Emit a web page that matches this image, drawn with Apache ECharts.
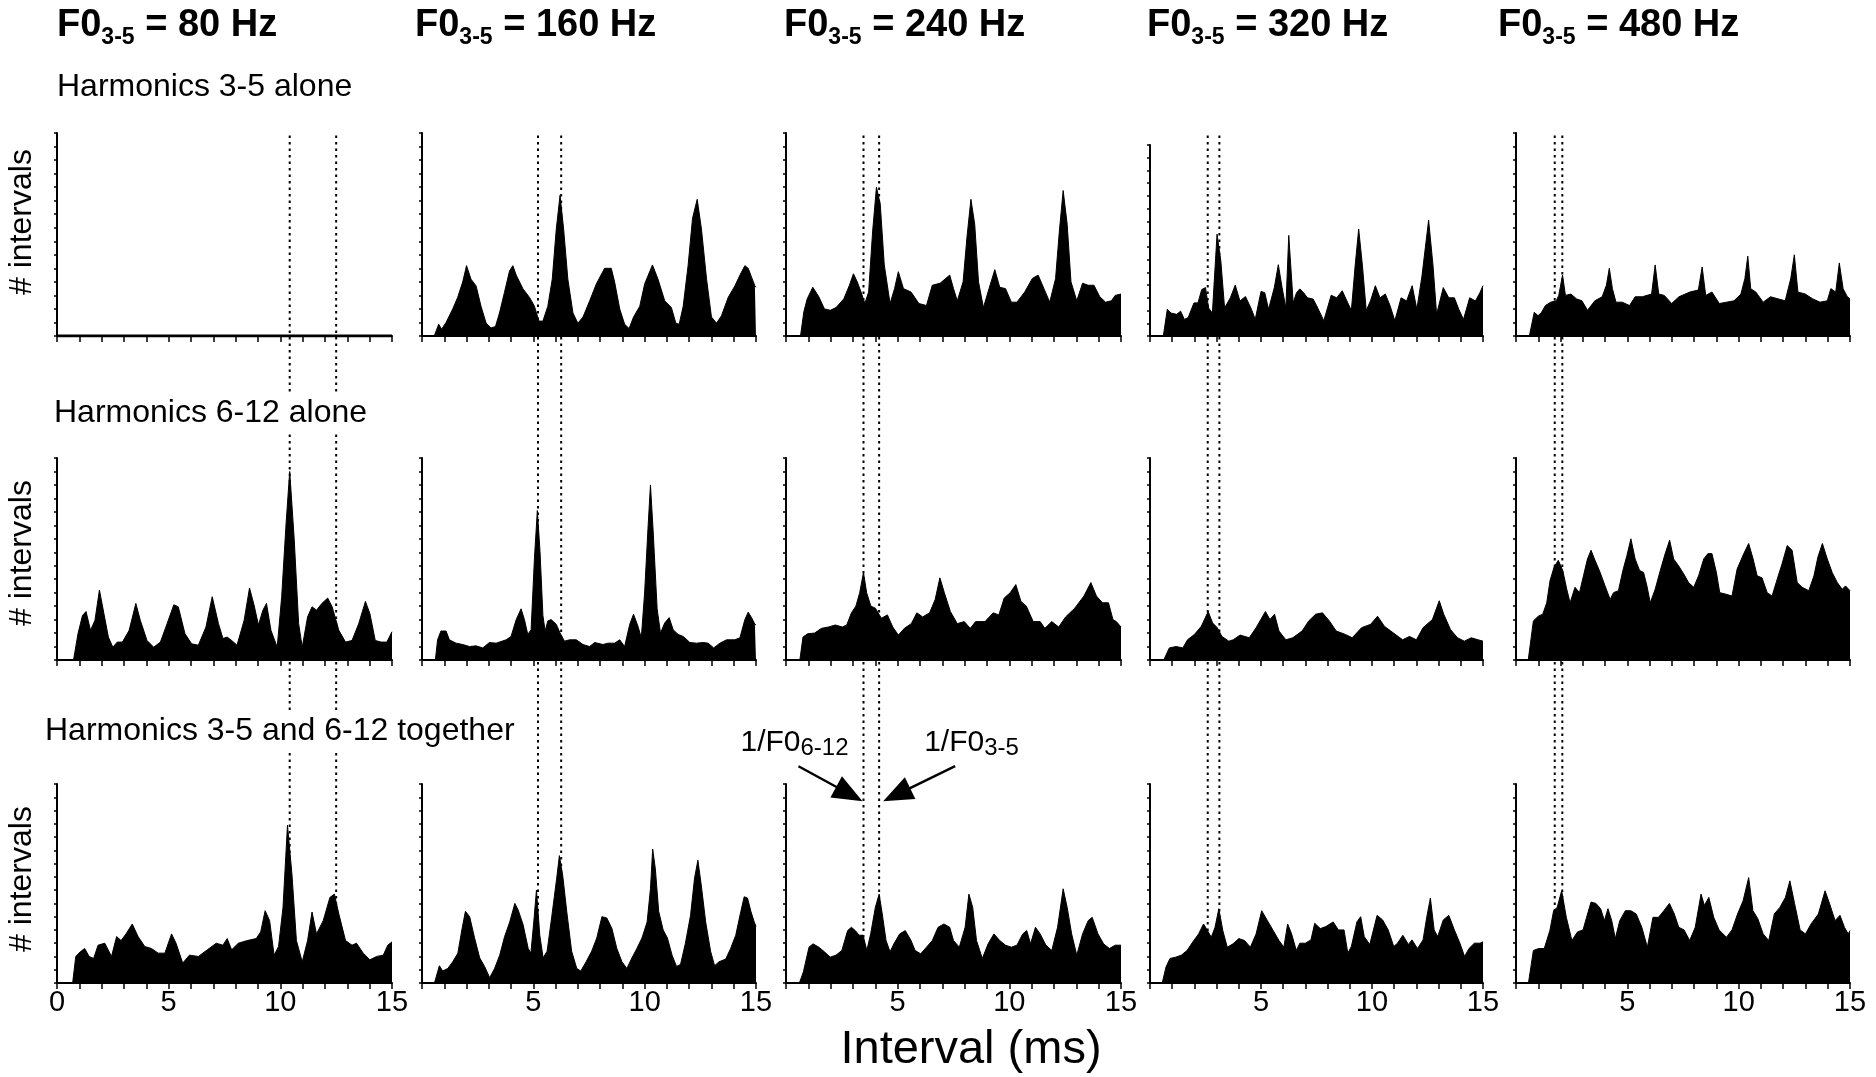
<!DOCTYPE html>
<html><head><meta charset="utf-8">
<script src="https://cdn.jsdelivr.net/npm/echarts@6/dist/echarts.min.js"></script>
<style>html,body{margin:0;padding:0;background:#fff}#c{width:1876px;height:1077px}</style>
</head><body><div id="c"></div>
<script>
// ---- tick/label data ----
const titleHz = ['80', '160', '240', '320', '480'];
const rowLabels = ['Harmonics 3-5 alone', 'Harmonics 6-12 alone', 'Harmonics 3-5 and 6-12 together'];
// dotted reference lines (ms): 1/F0(3-5) and 1/F0(6-12)
const period35 = [12.5, 6.25, 4.17, 3.125, 2.08];
const period612 = [10.42, 5.21, 3.47, 2.6, 1.74];
const xTickLabels = [0, 5, 10, 15];

// ---- histogram data: [interval ms, count (axis = 0..15)] ----
const h35_80 = [[0,0],[15,0]];
const h35_160 = [[0,0],[0.55,0],[0.75,0.87],[0.88,0.5],[1.08,1.0],[1.38,2.0],[1.6,2.85],[1.83,4.0],[2.0,5.2],[2.2,4.2],[2.43,3.7],[2.65,2.2],[2.88,0.95],[3.1,0.6],[3.3,0.7],[3.48,1.7],[3.7,3.2],[3.93,4.8],[4.08,5.2],[4.23,4.5],[4.53,3.5],[4.83,2.85],[5.05,2.2],[5.25,1.1],[5.43,1.1],[5.65,2.2],[5.85,4.2],[6.03,7.9],[6.2,10.4],[6.36,7.9],[6.55,4.2],[6.78,1.7],[7.0,0.95],[7.23,1.4],[7.53,2.6],[7.83,3.85],[8.2,5.0],[8.5,5.0],[8.65,4.0],[8.88,2.0],[9.1,0.87],[9.3,0.55],[9.5,1.4],[9.78,2.2],[10.0,3.85],[10.35,5.25],[10.6,4.2],[10.9,2.6],[11.2,2.1],[11.4,0.95],[11.55,0.87],[11.73,2.2],[11.95,5.2],[12.15,8.7],[12.36,10.1],[12.55,7.9],[12.78,4.2],[13.0,1.4],[13.23,0.95],[13.45,1.5],[13.75,2.85],[14.05,3.7],[14.28,4.5],[14.5,5.2],[14.65,5.0],[14.8,4.35],[14.95,3.7],[15,3.6]];
const h35_240 = [[0,0],[0.65,0],[0.8,1.8],[0.95,2.75],[1.2,3.6],[1.47,2.9],[1.72,2.0],[1.98,1.9],[2.24,2.1],[2.59,2.75],[2.84,3.75],[3.02,4.6],[3.19,4.0],[3.36,3.25],[3.53,2.4],[3.7,3.25],[3.88,7.75],[4.05,11.0],[4.22,9.75],[4.4,5.25],[4.66,2.4],[4.86,3.5],[5.03,4.75],[5.26,3.5],[5.6,3.25],[5.95,2.4],[6.29,2.25],[6.55,3.75],[6.9,3.9],[7.33,4.5],[7.5,3.5],[7.67,2.6],[7.93,4.0],[8.1,7.25],[8.28,10.1],[8.45,8.25],[8.62,4.0],[8.84,2.1],[9.09,3.5],[9.35,4.9],[9.57,3.6],[9.83,3.5],[10.09,2.5],[10.34,2.5],[10.69,3.25],[11.03,4.25],[11.29,4.5],[11.55,3.5],[11.81,2.5],[12.07,4.25],[12.24,7.75],[12.41,10.75],[12.59,8.25],[12.76,4.0],[13.02,2.6],[13.28,3.9],[13.53,3.75],[13.79,3.75],[14.05,2.9],[14.31,2.5],[14.57,2.6],[14.74,3.0],[15,3.1]];
const h35_320 = [[0,0],[0.6,0],[0.78,2.1],[0.95,1.8],[1.2,1.7],[1.38,1.95],[1.55,1.3],[1.72,1.45],[1.98,2.6],[2.16,2.6],[2.33,3.65],[2.5,3.8],[2.64,2.2],[2.81,1.8],[3.02,8.0],[3.19,5.9],[3.36,2.2],[3.62,3.0],[3.84,4.0],[4.05,2.75],[4.3,3.1],[4.57,2.1],[4.74,1.3],[5.0,3.5],[5.17,3.4],[5.34,2.1],[5.6,3.8],[5.78,5.6],[5.95,3.8],[6.12,2.2],[6.25,7.9],[6.45,2.6],[6.6,3.4],[6.75,3.7],[6.92,3.4],[7.09,3.0],[7.35,2.9],[7.5,2.4],[7.83,1.2],[8.16,3.2],[8.41,3.0],[8.66,3.55],[8.83,2.9],[9.07,2.0],[9.24,5.5],[9.4,8.4],[9.57,5.5],[9.74,2.0],[9.93,2.75],[10.15,3.95],[10.36,3.0],[10.6,3.3],[10.81,2.4],[11.03,1.2],[11.31,3.0],[11.56,2.75],[11.81,3.95],[12.02,2.1],[12.25,4.7],[12.55,9.1],[12.75,5.5],[12.91,1.7],[13.21,3.8],[13.46,3.0],[13.71,3.0],[13.91,2.1],[14.12,1.3],[14.4,3.0],[14.66,2.75],[14.86,3.4],[15,3.95]];
const h35_480 = [[0,0],[0.6,0],[0.82,1.75],[0.99,1.5],[1.15,1.75],[1.32,2.25],[1.56,2.5],[1.81,2.6],[1.92,3.0],[2.09,4.5],[2.22,3.0],[2.47,3.1],[2.71,2.75],[2.96,2.6],[3.21,1.9],[3.54,2.6],[3.87,2.9],[4.06,3.75],[4.19,5.0],[4.33,3.5],[4.49,2.5],[4.77,2.5],[5.1,2.25],[5.35,2.9],[5.67,2.9],[6.09,3.1],[6.25,5.25],[6.41,3.1],[6.66,3.0],[6.99,2.4],[7.32,2.9],[7.81,3.25],[8.19,3.4],[8.36,5.1],[8.52,3.0],[8.8,3.25],[9.13,2.4],[9.46,2.5],[9.79,2.6],[10.1,3.1],[10.28,4.25],[10.41,5.9],[10.54,3.5],[10.77,3.25],[11.1,2.5],[11.43,2.9],[11.76,2.75],[12.09,2.6],[12.34,4.25],[12.5,6.0],[12.66,3.25],[12.99,3.1],[13.32,2.75],[13.65,2.5],[13.98,2.6],[14.14,3.5],[14.36,3.25],[14.52,5.4],[14.69,3.5],[14.88,2.9],[15,2.75]];

const h612_80 = [[0,0],[0.74,0],[0.94,1.95],[1.14,3.3],[1.3,3.6],[1.5,2.2],[1.7,2.95],[1.9,5.2],[2.1,3.45],[2.3,1.7],[2.5,0.95],[2.7,1.33],[2.93,1.33],[3.23,2.2],[3.53,4.2],[3.73,2.95],[4.03,1.45],[4.33,0.95],[4.63,1.33],[4.93,2.7],[5.23,4.1],[5.43,3.95],[5.73,1.95],[6.03,1.2],[6.33,1.1],[6.67,2.45],[6.95,4.7],[7.23,2.7],[7.43,1.6],[7.62,1.7],[7.82,1.45],[8.06,1.1],[8.38,2.95],[8.62,5.35],[8.82,4.1],[9.02,2.6],[9.22,3.7],[9.38,4.2],[9.58,2.2],[9.86,0.95],[10.06,4.7],[10.26,10.2],[10.42,14.0],[10.62,9.0],[10.82,2.7],[10.98,0.95],[11.22,3.2],[11.42,3.95],[11.62,3.7],[11.86,4.2],[12.12,4.6],[12.32,3.95],[12.62,2.2],[12.92,1.33],[13.21,1.45],[13.51,2.7],[13.81,4.35],[14.01,3.45],[14.25,1.45],[14.51,1.33],[14.77,1.33],[15,2.1]];
const h612_160 = [[0,0],[0.6,0],[0.7,1.5],[0.85,2.15],[1.08,2.15],[1.23,1.5],[1.53,1.25],[1.83,1.15],[2.13,1.0],[2.43,1.05],[2.73,0.9],[3.03,1.3],[3.33,1.25],[3.78,1.5],[4.0,1.75],[4.23,3.0],[4.45,3.8],[4.6,3.0],[4.75,1.9],[4.9,2.25],[5.05,7.55],[5.18,11.1],[5.3,8.05],[5.43,3.3],[5.53,2.15],[5.65,2.9],[5.8,3.0],[6.03,2.65],[6.2,2.0],[6.4,1.4],[6.63,1.5],[6.93,1.5],[7.23,1.15],[7.53,1.0],[7.75,1.3],[8.13,1.15],[8.35,1.25],[8.65,1.25],[8.88,1.5],[9.1,1.0],[9.33,2.65],[9.5,3.4],[9.7,2.5],[9.85,1.65],[10.0,5.05],[10.15,9.8],[10.26,13.0],[10.38,9.6],[10.56,3.8],[10.71,2.0],[10.9,2.75],[11.1,3.15],[11.28,2.25],[11.5,1.9],[11.73,1.75],[12.03,1.3],[12.33,1.25],[12.63,1.3],[12.85,1.25],[13.1,0.9],[13.38,1.25],[13.68,1.5],[14.05,1.5],[14.28,1.65],[14.5,3.0],[14.65,3.55],[14.8,3.15],[14.95,2.65],[15,2.6]];
const h612_240 = [[0,0],[0.62,0],[0.76,1.7],[0.97,1.95],[1.28,2.0],[1.59,2.35],[1.9,2.45],[2.21,2.6],[2.52,2.45],[2.72,2.6],[2.93,3.5],[3.13,4.0],[3.3,5.0],[3.47,6.5],[3.61,5.0],[3.8,4.0],[4.0,3.85],[4.27,3.1],[4.54,3.35],[4.78,2.45],[5.03,1.85],[5.3,2.35],[5.61,2.7],[5.86,3.5],[6.12,3.2],[6.43,3.5],[6.68,4.5],[6.89,6.1],[7.09,5.0],[7.36,3.6],[7.67,2.7],[7.98,2.85],[8.25,2.35],[8.49,2.85],[8.91,2.85],[9.28,3.5],[9.53,3.35],[9.77,4.6],[10.04,5.0],[10.29,5.6],[10.52,4.35],[10.76,4.0],[11.07,2.85],[11.38,2.85],[11.59,2.35],[11.9,2.85],[12.21,2.45],[12.52,3.2],[12.93,3.85],[13.34,4.75],[13.65,5.75],[13.9,4.75],[14.17,4.25],[14.44,4.25],[14.64,3.0],[14.79,2.85],[15,2.45]];
const h612_320 = [[0,0],[0.62,0],[0.87,0.9],[1.18,1.0],[1.48,0.9],[1.69,1.5],[2.0,1.9],[2.31,2.5],[2.62,3.6],[2.82,2.75],[3.03,2.4],[3.24,1.75],[3.55,1.4],[3.75,1.5],[4.06,1.85],[4.47,1.65],[4.78,2.4],[4.99,3.0],[5.2,3.6],[5.4,3.0],[5.61,3.4],[5.81,2.15],[6.12,1.5],[6.43,1.65],[6.85,2.15],[7.15,2.9],[7.46,3.4],[7.77,3.5],[8.08,2.9],[8.39,2.15],[8.8,1.9],[9.11,1.65],[9.53,2.4],[9.94,2.65],[10.25,3.25],[10.56,2.5],[10.97,2.0],[11.38,1.5],[11.69,1.75],[12.0,1.5],[12.3,2.4],[12.72,3.0],[13.03,4.4],[13.23,3.4],[13.54,2.25],[13.85,1.65],[14.16,1.4],[14.47,1.65],[14.78,1.5],[15,1.4]];
const h612_480 = [[0,0],[0.55,0],[0.78,2.9],[1.0,3.25],[1.2,3.4],[1.38,4.25],[1.53,5.9],[1.71,6.9],[1.9,7.4],[2.1,6.65],[2.28,5.25],[2.43,4.25],[2.65,5.4],[2.85,5.0],[3.03,6.25],[3.21,7.5],[3.37,8.15],[3.55,7.4],[3.78,6.5],[4.0,5.5],[4.23,4.5],[4.38,5.0],[4.6,5.15],[4.8,6.65],[4.98,7.75],[5.16,9.0],[5.35,7.5],[5.55,6.65],[5.73,6.5],[5.88,5.5],[6.03,4.25],[6.25,5.25],[6.48,6.65],[6.7,7.9],[6.9,8.9],[7.08,7.5],[7.3,7.0],[7.53,6.4],[7.75,5.75],[7.98,5.4],[8.2,6.25],[8.43,7.5],[8.62,7.9],[8.8,7.9],[9.0,6.5],[9.15,5.0],[9.4,4.9],[9.7,4.75],[9.93,6.75],[10.23,7.9],[10.45,8.65],[10.65,7.5],[10.83,6.25],[11.05,6.1],[11.28,5.0],[11.5,4.75],[11.73,6.0],[11.95,7.15],[12.18,8.5],[12.4,8.15],[12.63,5.75],[12.85,5.4],[13.15,5.15],[13.38,6.25],[13.56,7.65],[13.76,8.65],[13.98,7.5],[14.2,6.5],[14.43,5.75],[14.65,5.25],[14.8,5.5],[15,5.15]];

const both_80 = [[0,0],[0.7,0],[0.84,2.0],[1.04,2.35],[1.24,2.6],[1.44,2.0],[1.64,1.85],[1.84,2.85],[2.14,3.0],[2.44,2.0],[2.67,3.5],[2.87,3.2],[3.09,3.7],[3.37,4.45],[3.63,3.5],[3.93,2.75],[4.23,2.6],[4.53,2.25],[4.83,2.25],[5.13,3.7],[5.33,3.0],[5.63,1.5],[5.93,2.1],[6.33,2.0],[6.73,2.5],[7.13,3.0],[7.43,2.85],[7.62,3.35],[7.82,2.5],[8.12,3.0],[8.52,3.2],[8.92,3.35],[9.12,3.85],[9.32,5.45],[9.52,4.7],[9.72,2.1],[9.92,2.75],[10.12,5.7],[10.32,11.9],[10.52,8.2],[10.72,3.2],[10.98,1.6],[11.22,3.2],[11.42,5.35],[11.62,3.7],[11.92,4.7],[12.22,6.45],[12.42,6.7],[12.62,5.2],[12.92,3.2],[13.21,2.85],[13.41,3.0],[13.71,2.25],[14.01,1.75],[14.31,2.0],[14.61,2.1],[14.81,2.85],[15,3.1]];
const both_160 = [[0,0],[0.56,0],[0.78,1.3],[0.93,0.9],[1.16,1.1],[1.38,1.6],[1.61,2.25],[1.8,4.1],[1.95,5.4],[2.14,5.0],[2.36,3.4],[2.59,1.9],[2.81,1.25],[3.04,0.4],[3.26,1.1],[3.49,2.1],[3.71,3.5],[3.94,4.6],[4.17,6.0],[4.32,5.5],[4.54,4.4],[4.77,2.6],[4.89,2.25],[5.02,4.6],[5.14,7.0],[5.29,3.6],[5.44,1.9],[5.62,2.4],[5.82,4.9],[6.05,7.9],[6.17,9.6],[6.32,8.1],[6.5,5.4],[6.72,2.4],[6.95,1.1],[7.13,0.9],[7.37,1.6],[7.62,2.4],[7.85,3.4],[8.08,5.0],[8.3,4.9],[8.53,4.1],[8.75,2.6],[8.98,1.6],[9.2,1.1],[9.43,1.9],[9.65,2.6],[9.88,3.4],[10.11,4.6],[10.26,7.1],[10.36,10.1],[10.48,8.6],[10.63,5.4],[10.83,4.0],[11.02,3.4],[11.23,2.1],[11.43,1.25],[11.61,1.4],[11.83,3.0],[12.06,5.1],[12.24,7.9],[12.39,9.25],[12.54,7.4],[12.74,4.6],[12.96,2.4],[13.14,1.3],[13.34,1.6],[13.64,1.8],[13.86,2.6],[14.09,3.6],[14.32,5.4],[14.47,6.5],[14.62,6.4],[14.77,5.4],[14.92,4.6],[15,4.25]];
const both_240 = [[0,0],[0.6,0],[0.78,0.85],[1.03,2.7],[1.21,2.95],[1.47,2.7],[1.72,2.35],[1.98,1.95],[2.24,2.1],[2.5,2.45],[2.76,3.95],[2.93,4.2],[3.1,3.95],[3.28,3.6],[3.45,3.6],[3.62,2.45],[3.79,3.7],[4.0,5.7],[4.17,6.7],[4.31,5.2],[4.48,3.2],[4.66,2.35],[4.83,2.95],[5.09,3.7],[5.34,3.95],[5.6,3.2],[5.78,2.45],[6.03,2.2],[6.29,2.7],[6.55,3.2],[6.81,4.2],[7.07,4.45],[7.33,4.2],[7.5,3.2],[7.76,2.7],[8.02,4.2],[8.19,6.7],[8.36,5.7],[8.53,3.2],[8.79,1.85],[9.05,2.95],[9.31,3.7],[9.57,3.2],[9.83,2.85],[10.09,2.7],[10.34,2.85],[10.6,3.7],[10.78,3.95],[10.95,2.95],[11.17,4.2],[11.38,3.7],[11.64,2.85],[11.9,2.45],[12.16,4.2],[12.41,7.1],[12.59,5.7],[12.79,3.7],[13.02,2.1],[13.28,3.7],[13.53,4.7],[13.71,4.95],[13.97,3.7],[14.22,2.95],[14.48,2.6],[14.74,2.85],[15,2.85]];
const both_320 = [[0,0],[0.55,0],[0.72,1.2],[0.9,1.85],[1.16,1.95],[1.41,2.1],[1.67,2.45],[1.93,3.1],[2.19,3.7],[2.41,4.45],[2.59,3.95],[2.76,3.45],[2.93,4.2],[3.1,5.6],[3.28,3.95],[3.48,2.7],[3.74,2.95],[4.0,3.35],[4.26,3.2],[4.52,2.7],[4.78,3.7],[5.03,5.45],[5.29,4.7],[5.55,3.95],[5.81,3.2],[6.03,2.7],[6.2,4.45],[6.38,3.7],[6.59,2.45],[6.75,3.0],[7.0,3.0],[7.25,3.25],[7.42,4.5],[7.67,4.1],[7.92,4.25],[8.25,4.6],[8.49,4.0],[8.74,4.0],[8.91,2.25],[9.07,2.75],[9.32,4.6],[9.49,5.0],[9.65,3.5],[9.9,2.9],[10.23,5.1],[10.48,4.75],[10.73,4.0],[10.98,2.75],[11.15,3.0],[11.39,3.6],[11.64,2.9],[11.8,3.25],[12.05,2.6],[12.3,3.25],[12.47,5.0],[12.63,6.4],[12.8,4.0],[12.96,3.5],[13.21,4.75],[13.46,5.1],[13.71,4.0],[13.96,3.0],[14.17,2.0],[14.37,2.6],[14.61,3.0],[14.86,3.0],[15,3.1]];
const both_480 = [[0,0],[0.56,0],[0.78,2.45],[1.02,2.6],[1.27,2.6],[1.52,3.95],[1.69,5.45],[1.85,5.7],[2.05,6.95],[2.26,4.95],[2.51,3.2],[2.76,3.85],[3.01,4.0],[3.17,4.95],[3.37,6.1],[3.59,6.0],[3.8,5.6],[3.97,4.7],[4.13,5.6],[4.3,4.7],[4.46,3.35],[4.66,4.7],[4.91,5.45],[5.16,5.45],[5.4,5.2],[5.65,4.2],[5.9,2.7],[6.15,4.95],[6.4,4.95],[6.64,5.45],[6.89,6.0],[7.11,5.2],[7.31,4.2],[7.55,4.0],[7.8,3.2],[8.05,4.2],[8.31,6.7],[8.46,5.85],[8.66,6.45],[8.88,4.95],[9.12,4.0],[9.45,3.45],[9.7,4.0],[9.95,5.2],[10.2,6.2],[10.45,7.95],[10.64,5.45],[10.86,4.85],[11.1,3.7],[11.35,3.2],[11.6,5.2],[11.85,5.7],[12.1,6.45],[12.3,7.7],[12.51,6.0],[12.76,4.0],[13.0,3.7],[13.25,4.45],[13.58,5.2],[13.88,6.95],[14.08,6.0],[14.33,4.7],[14.55,5.1],[14.75,4.2],[14.92,3.7],[15,3.95]];

const panels = [
  [h35_80, h35_160, h35_240, h35_320, h35_480],
  [h612_80, h612_160, h612_240, h612_320, h612_480],
  [both_80, both_160, both_240, both_320, both_480]
];

// ---- layout (pixels) ----
const colLeft = [57, 422, 786, 1150, 1516];
const colWidth = [335, 334, 335, 333, 334];
const rowTop = [133, 458, 784];
const rowHeight = [203, 202, 199];
const panelTopShift = {'0-3': 12};
const titleX = [57, 415, 784, 1147, 1498];
const FONT = '"Liberation Sans", Arial, Helvetica, sans-serif';

const grid = [], xAxis = [], yAxis = [], series = [];
for (let r = 0; r < 3; r++) {
  for (let c = 0; c < 5; c++) {
    const shift = panelTopShift[r + '-' + c] || 0;
    grid.push({left: colLeft[c], width: colWidth[c], top: rowTop[r] + shift, height: rowHeight[r] - shift});
    const gi = grid.length - 1;
    xAxis.push({
      type: 'value', gridIndex: gi, min: 0, max: 15, interval: 1,
      axisLine: {show: true, onZero: false, lineStyle: {color: '#000', width: 2}},
      axisTick: {show: true, length: 6, lineStyle: {color: '#000', width: 1.5}},
      axisLabel: {
        show: r === 2, color: '#000', fontSize: 29, fontFamily: FONT, margin: 5,
        formatter: v => (xTickLabels.indexOf(v) >= 0 && (c === 0 || v > 0)) ? String(v) : ''
      },
      splitLine: {show: false}
    });
    yAxis.push({
      type: 'value', gridIndex: gi, min: 0, max: 15, interval: 1,
      axisLine: {show: true, lineStyle: {color: '#000', width: 2}},
      axisTick: {show: true, length: 3, lineStyle: {color: '#000', width: 1.5}},
      axisLabel: {show: false}, splitLine: {show: false}
    });
    const empty = (r === 0 && c === 0);
    series.push({
      type: 'line', xAxisIndex: gi, yAxisIndex: gi, data: panels[r][c],
      showSymbol: false, symbol: 'none', silent: true, z: 3,
      lineStyle: {color: '#000', width: empty ? 3 : 1},
      areaStyle: empty ? undefined : {color: '#000', opacity: 1}
    });
  }
}
// overlay grids for the dotted 1/F0 lines spanning all three rows
for (let c = 0; c < 5; c++) {
  grid.push({left: colLeft[c], width: colWidth[c], top: rowTop[0], height: rowTop[2] + rowHeight[2] - rowTop[0]});
  const gi = grid.length - 1;
  xAxis.push({type: 'value', gridIndex: gi, min: 0, max: 15, show: false});
  yAxis.push({type: 'value', gridIndex: gi, min: 0, max: 1, show: false});
  [period612[c], period35[c]].forEach(p => {
    series.push({
      type: 'line', xAxisIndex: gi, yAxisIndex: gi, data: [[p, 0], [p, 1]],
      showSymbol: false, symbol: 'none', silent: true, z: 1,
      lineStyle: {color: '#000', width: 2, type: [2.5, 4]}
    });
  });
}

const graphic = [];
for (let c = 0; c < 5; c++) {
  graphic.push({
    type: 'text', x: titleX[c], y: 3, z: 100,
    style: {
      text: '{a|F0}{s|3-5}{a| = ' + titleHz[c] + ' Hz}', verticalAlign: 'top',
      rich: {
        a: {fontSize: 38, fontWeight: 'bold', fontFamily: FONT, fill: '#000', lineHeight: 46},
        s: {fontSize: 23, fontWeight: 'bold', fontFamily: FONT, fill: '#000', lineHeight: 23, verticalAlign: 'bottom'}
      }
    }
  });
}
const rowLabelPos = [[53, 87], [50, 413], [41, 731]];
rowLabels.forEach((t, i) => {
  graphic.push({
    type: 'text', x: rowLabelPos[i][0], y: rowLabelPos[i][1], z: 100,
    style: {text: t, fontSize: 32, fontFamily: FONT, fill: '#000', verticalAlign: 'middle',
            backgroundColor: '#fff', padding: [2, 4]}
  });
});
const yNameY = [222, 553, 879];
yNameY.forEach(y => {
  graphic.push({
    type: 'text', x: 22, y: y, rotation: Math.PI / 2, z: 100,
    style: {text: '# intervals', fontSize: 32, fontFamily: FONT, fill: '#000', align: 'center', verticalAlign: 'middle'}
  });
});
graphic.push({
  type: 'text', x: 971, y: 1050, z: 100,
  style: {text: 'Interval (ms)', fontSize: 47, fontFamily: FONT, fill: '#000', align: 'center', verticalAlign: 'middle'}
});

const chart = echarts.init(document.getElementById('c'), null, {renderer: 'canvas'});
chart.setOption({
  animation: false, backgroundColor: '#fff',
  textStyle: {fontFamily: FONT},
  grid, xAxis, yAxis, series, graphic
});

// annotation arrows tied to the 240 Hz "together" panel coordinates
const annGrid = 2 * 5 + 2;
const tipL = chart.convertToPixel({gridIndex: annGrid}, [period612[2], 13.7]);
const tipR = chart.convertToPixel({gridIndex: annGrid}, [period35[2], 13.7]);
tipL[0] -= 1; tipR[0] += 4;
const tailL = [tipL[0] - 64, tipL[1] - 35];
const tailR = [tipR[0] + 72, tipR[1] - 35];
function arrow(tail, tip) {
  const dx = tip[0] - tail[0], dy = tip[1] - tail[1];
  const L = Math.hypot(dx, dy), ux = dx / L, uy = dy / L;
  const hl = 30, hw = 12;
  const bx = tip[0] - ux * hl, by = tip[1] - uy * hl;
  return [
    {type: 'line', z: 101, shape: {x1: tail[0], y1: tail[1], x2: bx + ux * 4, y2: by + uy * 4}, style: {stroke: '#000', lineWidth: 2.5}},
    {type: 'polygon', z: 101, shape: {points: [tip, [bx - uy * hw, by + ux * hw], [bx + uy * hw, by - ux * hw]]}, style: {fill: '#000'}}
  ];
}
const annRich = {
  a: {fontSize: 30, fontFamily: FONT, fill: '#000', lineHeight: 36},
  s: {fontSize: 24, fontFamily: FONT, fill: '#000', lineHeight: 24, verticalAlign: 'bottom'}
};
const extra = [].concat(arrow(tailL, tipL), arrow(tailR, tipR), [
  {type: 'text', x: tailL[0] - 58, y: tailL[1] - 42, z: 101,
   style: {text: '{a|1/F0}{s|6-12}', verticalAlign: 'top', rich: annRich}},
  {type: 'text', x: tailR[0] - 31, y: tailR[1] - 42, z: 101,
   style: {text: '{a|1/F0}{s|3-5}', verticalAlign: 'top', rich: annRich}}
]);
chart.setOption({graphic: graphic.concat(extra)});
</script>
</body></html>
